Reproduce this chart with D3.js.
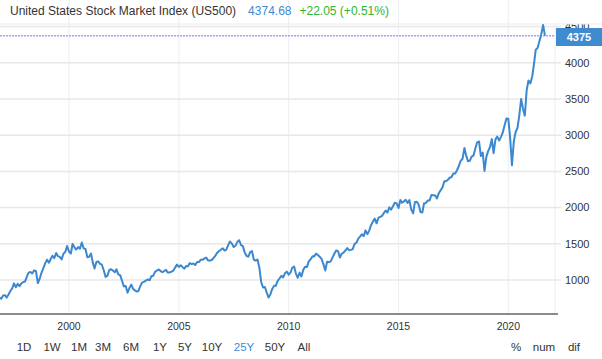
<!DOCTYPE html>
<html>
<head>
<meta charset="utf-8">
<script src="https://cdn.jsdelivr.net/npm/d3@7"></script>
<style>
  body { margin: 0; background: #fff; }
  svg { display: block; font-family: "Liberation Sans", Arial, sans-serif; }
</style>
</head>
<body>
<div id="container"></div>
<script>
// monthly closes, starting Nov 1996
const firstMonth = new Date(1996, 10, 1);
const closes = [
  757, 741,
  786, 791, 757, 801, 848, 885, 954, 899, 947, 915, 955, 970,
  980, 1049, 1102, 1112, 1091, 1134, 1121, 957, 1017, 1099, 1164, 1229,
  1280, 1238, 1286, 1335, 1302, 1373, 1329, 1320, 1283, 1363, 1389, 1469,
  1394, 1366, 1499, 1452, 1421, 1455, 1431, 1518, 1437, 1429, 1315, 1320,
  1366, 1240, 1160, 1249, 1256, 1224, 1211, 1134, 1041, 1060, 1139, 1148,
  1130, 1107, 1147, 1076, 1067, 990, 912, 916, 825, 886, 936, 880,
  856, 841, 848, 917, 964, 975, 990, 1008, 996, 1051, 1058, 1112,
  1131, 1145, 1126, 1107, 1121, 1141, 1102, 1104, 1115, 1130, 1174, 1212,
  1181, 1204, 1181, 1157, 1192, 1191, 1234, 1220, 1229, 1207, 1249, 1248,
  1280, 1281, 1295, 1311, 1270, 1270, 1277, 1304, 1336, 1378, 1401, 1418,
  1438, 1407, 1421, 1482, 1531, 1503, 1455, 1474, 1527, 1549, 1481, 1468,
  1379, 1331, 1323, 1386, 1400, 1280, 1267, 1283, 1166, 969, 896, 903,
  826, 757, 798, 873, 919, 919, 987, 1021, 1057, 1036, 1096, 1115,
  1074, 1104, 1169, 1187, 1089, 1031, 1102, 1049, 1141, 1183, 1181, 1258,
  1286, 1327, 1326, 1364, 1345, 1321, 1292, 1219, 1131, 1253, 1247, 1258,
  1312, 1366, 1408, 1398, 1310, 1362, 1379, 1407, 1441, 1412, 1416, 1426,
  1498, 1515, 1569, 1598, 1631, 1606, 1686, 1633, 1682, 1757, 1806, 1848,
  1783, 1859, 1872, 1884, 1924, 1960, 1931, 2003, 1972, 2018, 2068, 2059,
  1995, 2105, 2068, 2086, 2107, 2063, 2104, 1972, 1920, 2079, 2080, 2044,
  1940, 1932, 2060, 2065, 2097, 2099, 2174, 2171, 2168, 2126, 2199, 2239,
  2279, 2364, 2363, 2384, 2412, 2423, 2470, 2472, 2519, 2575, 2648, 2674,
  2824, 2714, 2641, 2648, 2705, 2718, 2816, 2902, 2914, 2712, 2760, 2507,
  2704, 2784, 2834, 2946, 2752, 2942, 2980, 2926, 2977, 3038, 3141, 3231,
  3226, 2954, 2585, 2912, 3044, 3100, 3271, 3500, 3363, 3270, 3622, 3756,
  3714, 3811, 3973, 4181, 4204, 4298, 4395, 4523, 4375
];
const yTicks = [1000, 1500, 2000, 2500, 3000, 3500, 4000, 4500];
const xTickYears = [2000, 2005, 2010, 2015, 2020];
const ranges = ['1D', '1W', '1M', '3M', '6M', '1Y', '5Y', '10Y', '25Y', '50Y', 'All'];
const modes = ['%', 'num', 'dif'];
const title = 'United States Stock Market Index (US500)';
const lastPrice = '4374.68';
const change = '+22.05 (+0.51%)';
const lastLabel = '4375';
const lastValue = 4375;

const width = 602;
const height = 359;
const plotRight = 555;
const plotTop = 24;
const plotBottom = 314;

const data = closes.map((v, i) => ({ date: d3.timeMonth.offset(firstMonth, i), value: v }));

const svg = d3.select('#container').append('svg')
  .attr('width', width)
  .attr('height', height);

const x = d3.scaleTime()
  .domain([new Date(1996, 10, 10), new Date(2022, 1, 15)])
  .range([0, plotRight]);

const y = d3.scaleLinear()
  .domain([1000, 4500])
  .range([280, 26.6]);

// vertical grid
svg.append('g')
  .selectAll('line')
  .data(xTickYears)
  .enter()
  .append('line')
  .attr('x1', d => x(new Date(d, 0, 1)))
  .attr('x2', d => x(new Date(d, 0, 1)))
  .attr('y1', 0)
  .attr('y2', plotBottom)
  .style('stroke', '#edf1f6')
  .style('stroke-width', 1.2);

svg.append('line')
  .attr('x1', plotRight).attr('x2', plotRight)
  .attr('y1', plotTop).attr('y2', plotBottom)
  .style('stroke', '#eef0f3')
  .style('stroke-width', 1.2);

// horizontal grid + ticks
const yg = svg.append('g');
yg.selectAll('line')
  .data(yTicks)
  .enter()
  .append('line')
  .attr('x1', 0)
  .attr('x2', plotRight + 6)
  .attr('y1', d => y(d))
  .attr('y2', d => y(d))
  .style('stroke', '#e8e8e8')
  .style('stroke-width', 1.5);

yg.selectAll('text')
  .data(yTicks)
  .enter()
  .append('text')
  .attr('x', 565)
  .attr('y', d => y(d))
  .attr('dy', '0.35em')
  .style('font-size', '11px')
  .style('fill', '#333')
  .text(d => d);

// hide top of the 4500 label
svg.append('rect')
  .attr('x', plotRight + 1).attr('y', 0)
  .attr('width', width - plotRight).attr('height', plotTop)
  .attr('fill', '#fff');

svg.append('line')
  .attr('x1', 0).attr('x2', width)
  .attr('y1', plotTop).attr('y2', plotTop)
  .style('stroke', '#ececec')
  .style('stroke-width', 1.2);

// last price line
svg.append('line')
  .attr('x1', 0).attr('x2', plotRight)
  .attr('y1', y(lastValue)).attr('y2', y(lastValue))
  .style('stroke', '#a99ff5')
  .style('stroke-width', 1.5)
  .style('stroke-dasharray', '2,1');

// series
const line = d3.line()
  .x(d => x(d.date))
  .y(d => y(d.value));

svg.append('path')
  .datum(data)
  .attr('d', line)
  .attr('fill', 'none')
  .style('stroke', '#3b88cf')
  .style('stroke-width', 2)
  .style('stroke-linejoin', 'round');

// bottom axis
svg.append('line')
  .attr('x1', 0).attr('x2', plotRight + 3)
  .attr('y1', plotBottom).attr('y2', plotBottom)
  .style('stroke', '#666')
  .style('stroke-width', 1.5);

svg.append('g')
  .selectAll('text')
  .data(xTickYears)
  .enter()
  .append('text')
  .attr('x', d => x(new Date(d, 0, 1)))
  .attr('y', 326)
  .attr('dy', '0.35em')
  .attr('text-anchor', 'middle')
  .style('font-size', '10.5px')
  .style('fill', '#333')
  .text(d => d);

// price badge
svg.append('rect')
  .attr('x', 556).attr('y', 28)
  .attr('width', 46).attr('height', 18)
  .attr('fill', '#3f8bd0');

svg.append('text')
  .attr('x', 579).attr('y', 37)
  .attr('dy', '0.35em')
  .attr('text-anchor', 'middle')
  .style('font-size', '11px')
  .style('font-weight', 'bold')
  .style('fill', '#fff')
  .text(lastLabel);

// header
const head = svg.append('text')
  .attr('x', 10).attr('y', 11)
  .attr('dy', '0.35em')
  .style('font-size', '12px');
head.append('tspan').style('fill', '#333').text(title);
head.append('tspan').attr('dx', 12).style('fill', '#3b8ad6').text(lastPrice);
head.append('tspan').attr('dx', 8).style('fill', '#2fb52f').text(change);

// range buttons
const rangeX = [24, 52, 79, 103, 131, 160, 185, 212, 244, 275, 304];
svg.append('g')
  .selectAll('text')
  .data(ranges)
  .enter()
  .append('text')
  .attr('x', (d, i) => rangeX[i])
  .attr('y', 347)
  .attr('dy', '0.35em')
  .attr('text-anchor', 'middle')
  .style('font-size', '11.5px')
  .style('fill', d => d === '25Y' ? '#3b8ad6' : '#333')
  .text(d => d);

const modeX = [516, 544, 574];
svg.append('g')
  .selectAll('text')
  .data(modes)
  .enter()
  .append('text')
  .attr('x', (d, i) => modeX[i])
  .attr('y', 347)
  .attr('dy', '0.35em')
  .attr('text-anchor', 'middle')
  .style('font-size', '11.5px')
  .style('fill', '#333')
  .text(d => d);
</script>
</body>
</html>
